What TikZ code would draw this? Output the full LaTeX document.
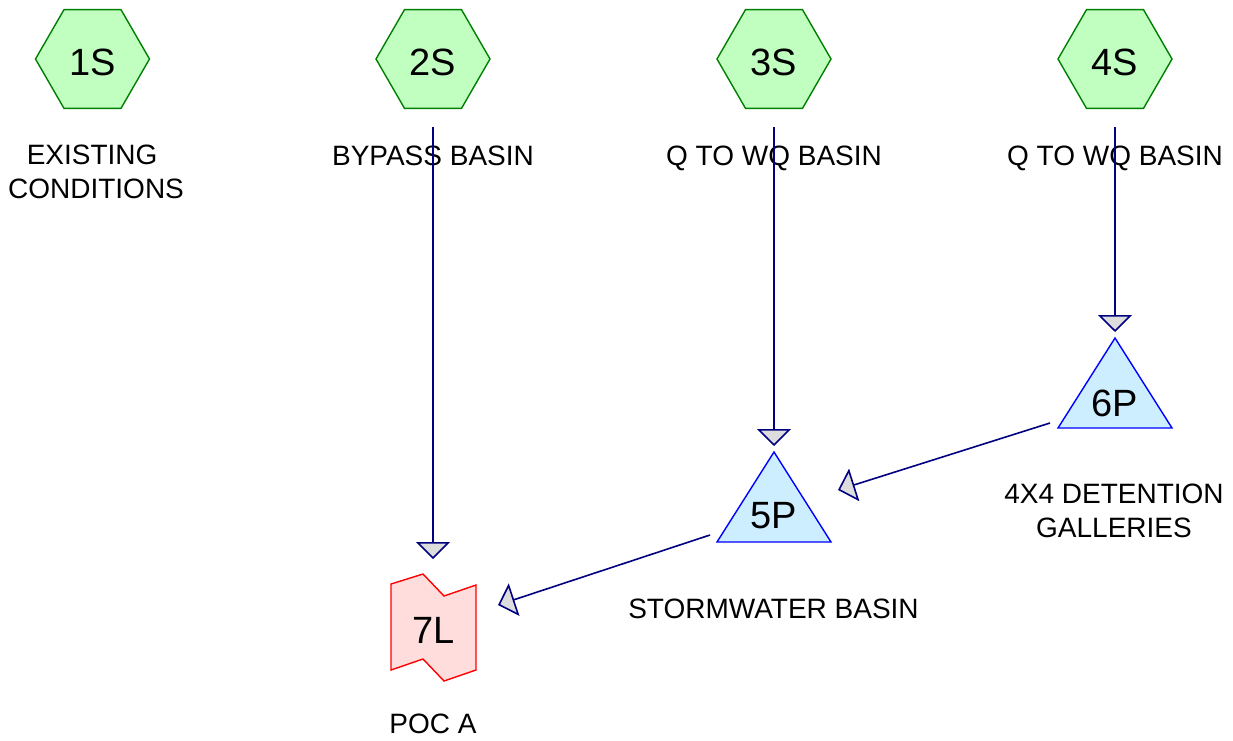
\documentclass[tikz,border=0pt]{standalone}
\usepackage{fontspec}
\setmainfont{Liberation Sans}
\usetikzlibrary{shapes.geometric,arrows.meta}
\definecolor{hexfill}{HTML}{C0FFC0}
\definecolor{hexline}{HTML}{008000}
\definecolor{pondfill}{HTML}{CCEEFF}
\definecolor{pondline}{HTML}{0000FF}
\definecolor{linkfill}{HTML}{FFDDDD}
\definecolor{linkline}{HTML}{FF0000}
\definecolor{wire}{HTML}{000080}
\definecolor{tipfill}{HTML}{DDDDDD}
\begin{document}
\begin{tikzpicture}[x=1pt,y=-1pt,
 hexa/.style={regular polygon, regular polygon sides=6, minimum size=114pt, inner sep=0pt, outer sep=0pt, draw=hexline, fill=hexfill, line width=1.4pt},
 pond/.style={draw=pondline, fill=pondfill, line width=1.4pt, line join=miter},
 reach/.style={draw=linkline, fill=linkfill, line width=1.4pt, line join=miter},
 idtext/.style={font=\fontsize{38}{38}\selectfont, anchor=base, inner sep=0pt},
 caption/.style={font=\fontsize{28}{33.5}\selectfont, anchor=base, align=center, inner sep=0pt},
 flow/.style={draw=wire, line width=1.6pt, -{Triangle[length=17pt,width=34pt,fill=tipfill]}}
]
\useasboundingbox[fill=white] (0,0) rectangle (1233,740);

% subcatchments
\node[hexa] (1S) at (92.5,59) {};
\node[hexa] (2S) at (433,59) {};
\node[hexa] (3S) at (774,59) {};
\node[hexa] (4S) at (1115,59) {};
\node[idtext] (1St) at (92.5,75) {1S};
\node[idtext] (2St) at (433,75) {2S};
\node[idtext] (3St) at (774,75) {3S};
\node[idtext] (4St) at (1115,75) {4S};

% ponds
\draw[pond] (774,452) -- (831,542) -- (717,542) -- cycle;
\draw[pond] (1115,338) -- (1172,428) -- (1058,428) -- cycle;
\node[idtext] (5P) at (774,528) {5P};
\node[idtext] (6P) at (1115,416) {6P};

% link
\draw[reach] (391,584) -- (423,574) -- (444,596) -- (476,585) -- (476,670) -- (444,681) -- (423,659) -- (391,670) -- cycle;
\node[idtext] (7L) at (433.5,643) {7L};

% captions (multi-line: base = last line)
\node[caption] (c1) at (96,198) {EXISTING\kern0.278em\\CONDITIONS};
\node[caption] (c2) at (433,165) {BYPASS BASIN};
\node[caption] (c3) at (774,165) {Q TO WQ BASIN};
\node[caption] (c4) at (1115,165) {Q TO WQ BASIN};
\node[caption] (c5) at (773.5,618) {STORMWATER BASIN};
\node[caption] (c6) at (1114,537) {4X4 DETENTION\\GALLERIES};
\node[caption] (c7) at (433,733) {POC A};

% connector ends
\coordinate (2Sout) at (433,127);
\coordinate (3Sout) at (774,127);
\coordinate (4Sout) at (1115,127);
\coordinate (7Ltop) at (433,559);
\coordinate (7Lside) at (498,605);
\coordinate (5Ptop) at (774,446);
\coordinate (5Pside) at (838,490);
\coordinate (5Pout) at (710,535);
\coordinate (6Ptop) at (1115,332);
\coordinate (6Pout) at (1050,423);

\draw[flow] (2Sout) -- (7Ltop);
\draw[flow] (3Sout) -- (5Ptop);
\draw[flow] (4Sout) -- (6Ptop);
\draw[flow] (6Pout) -- (5Pside);
\draw[flow] (5Pout) -- (7Lside);
\end{tikzpicture}
\end{document}
